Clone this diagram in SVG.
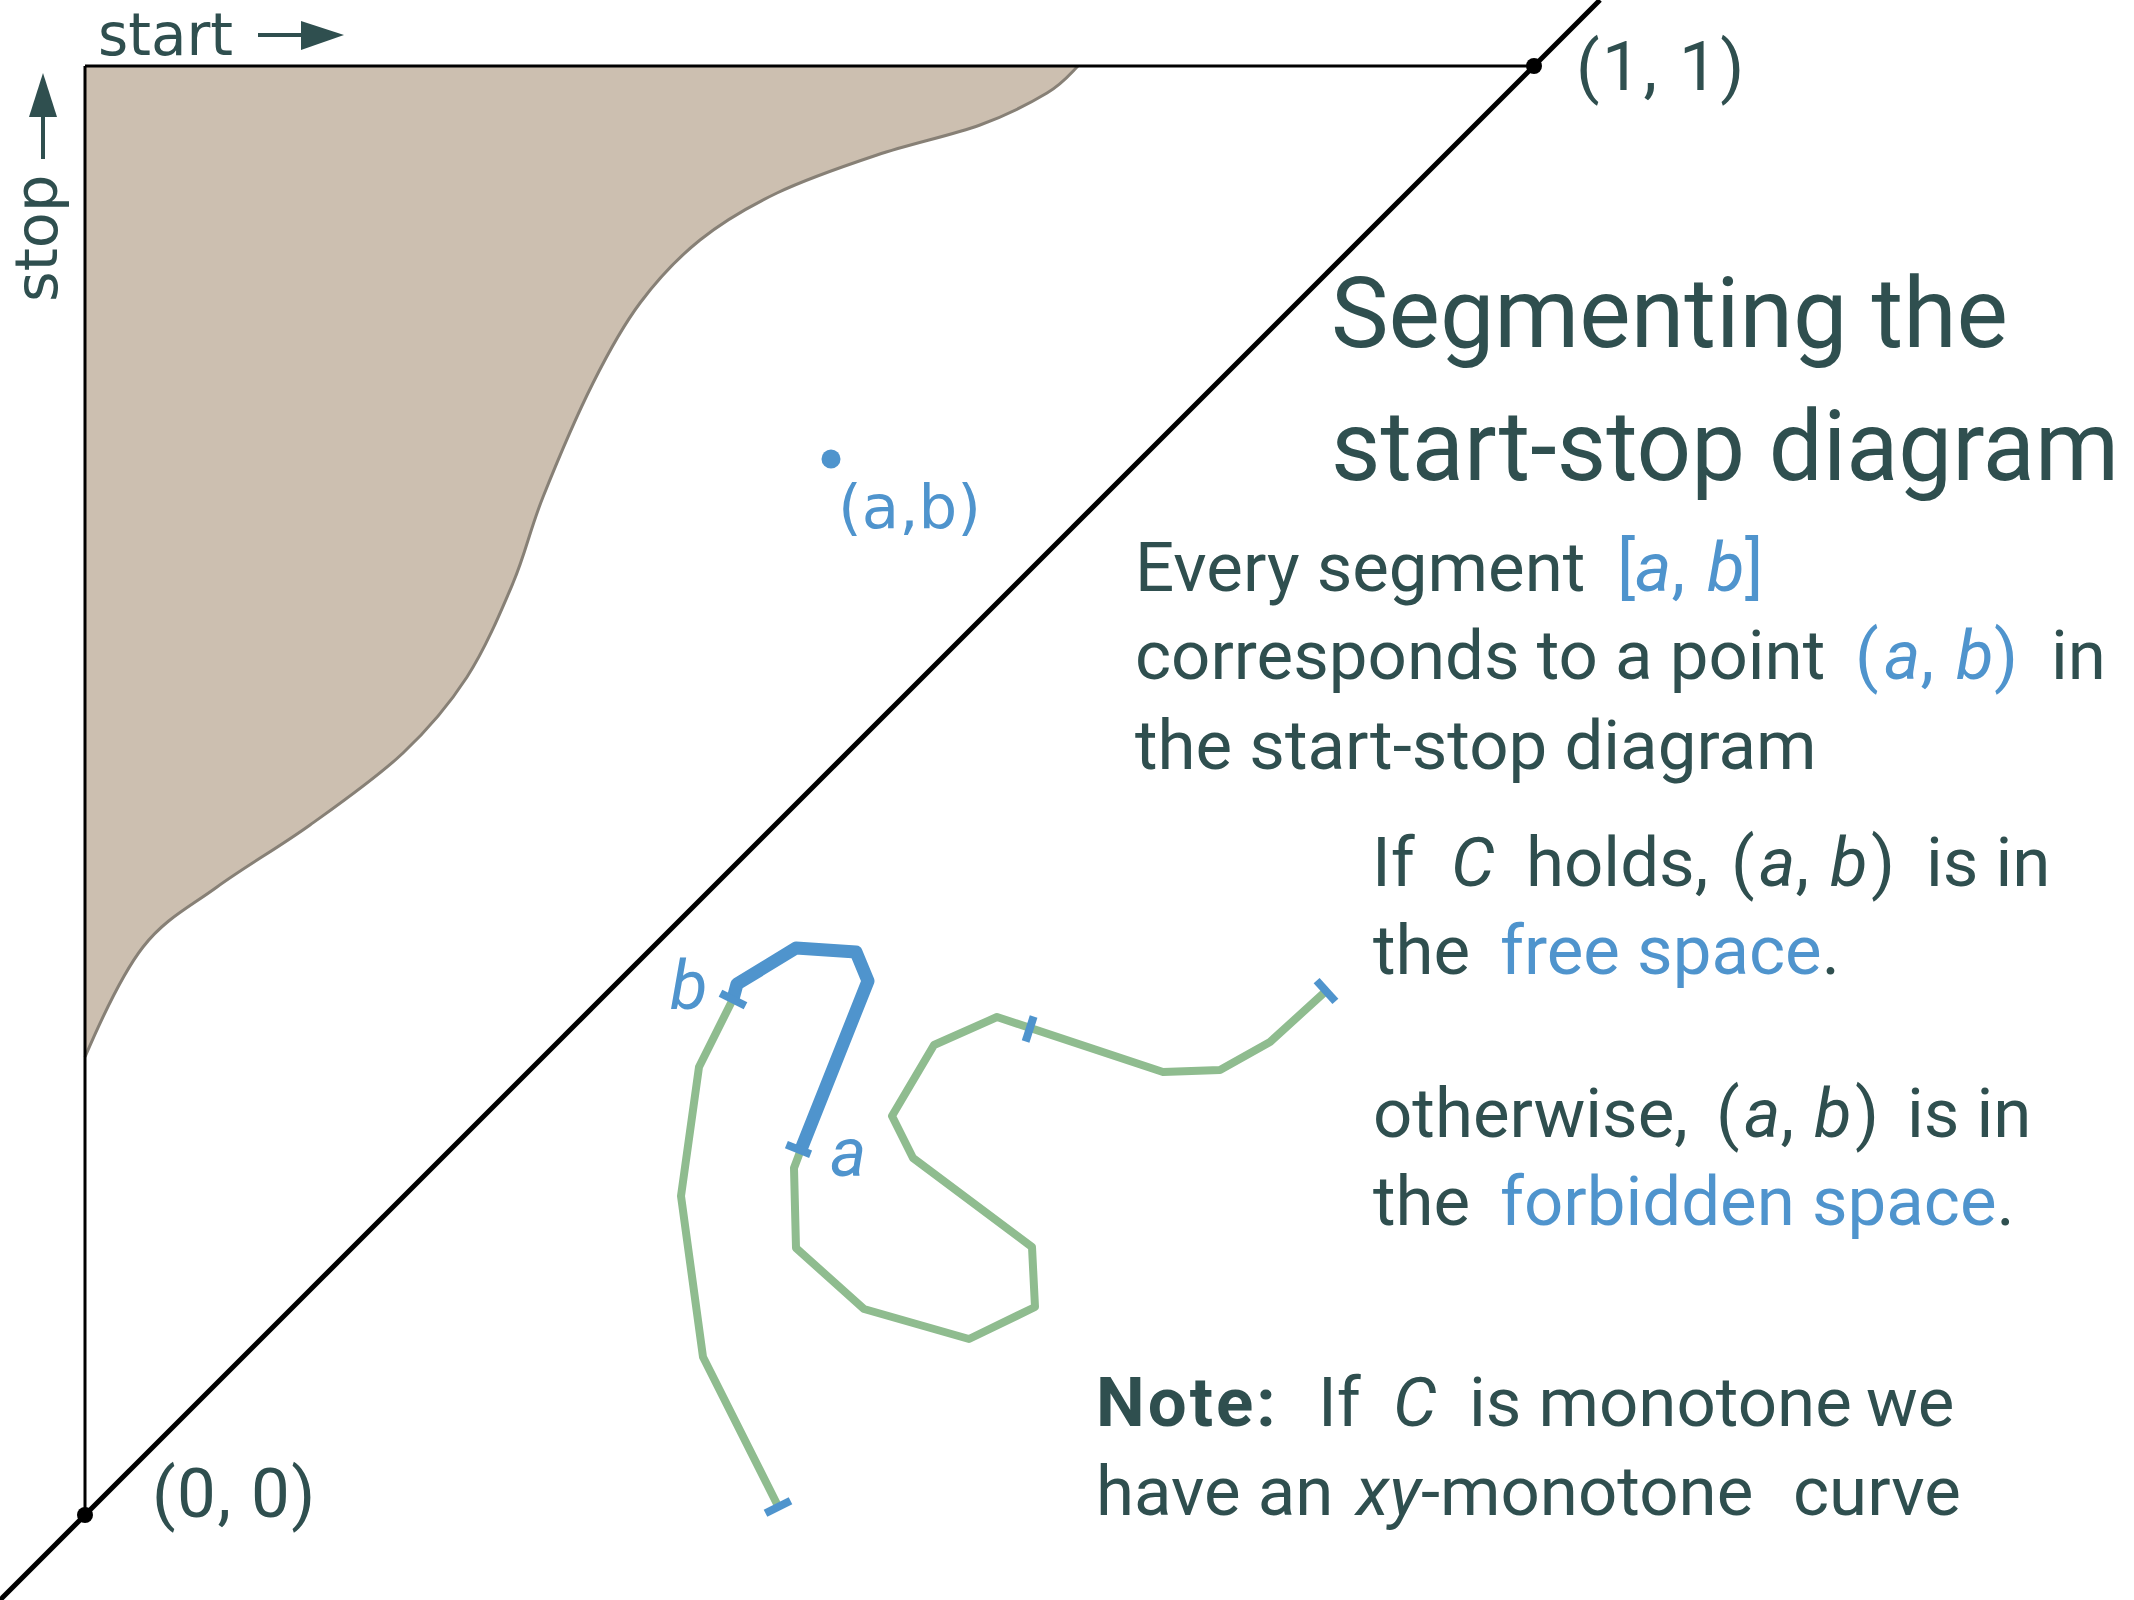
<svg xmlns="http://www.w3.org/2000/svg" width="2134" height="1600" viewBox="0 0 2134 1600">
<style>
  .t{font-family:Roboto,"Liberation Sans",sans-serif;fill:#2F4F4F}
  .body{font-size:69px}
  .title{font-size:98px}
  .bl{fill:#4F94CD}
  .i{font-style:italic}
  .bold{font-weight:700;letter-spacing:3px}
  .lbl{font-family:"DejaVu Sans","Open Sans",sans-serif;fill:#2F4F4F}
  .axis{stroke:#000;stroke-width:3;fill:none}
  .diag{stroke:#000;stroke-width:5;fill:none}
  .dot{fill:#000}
  .green{stroke:#8FBC8F;stroke-width:8;fill:none;stroke-linejoin:round;stroke-linecap:butt}
  .thick{stroke:#4F94CD;stroke-width:13;fill:none;stroke-linejoin:round;stroke-linecap:butt}
  .tick{stroke:#4F94CD;stroke-width:8;stroke-linecap:butt}
  .arrow{fill:#2F4F4F}
  .arrowline{stroke:#2F4F4F;stroke-width:4}
</style>
<rect width="2134" height="1600" fill="#fff"/>

<g id="forbidden-region">
  <path fill="#CCBFB0" stroke="none" d="M85,1057 C100,1022 121,975.3 143,947 C165,918.7 189.2,907.3 217,887 C244.8,866.7 279,847.3 310,825 C341,802.7 376.8,777.7 403,753 C429.2,728.3 448.7,705.3 467,677 C485.3,648.7 500.3,613 513,583 C525.7,553 529.7,530.3 543,497 C556.3,463.7 576.8,415.3 593,383 C609.2,350.7 622.2,326.8 640,303 C657.8,279.2 677.2,258.3 700,240 C722.8,221.7 747.5,207.2 777,193 C806.5,178.8 843.2,166.3 877,155 C910.8,143.7 951.7,135.3 980,125 C1008.3,114.7 1030.7,102.8 1047,93 C1063.3,83.2 1070,74 1078,66 L85,66 Z"/>
  <path fill="none" stroke="#878076" stroke-width="3" d="M85,1057 C100,1022 121,975.3 143,947 C165,918.7 189.2,907.3 217,887 C244.8,866.7 279,847.3 310,825 C341,802.7 376.8,777.7 403,753 C429.2,728.3 448.7,705.3 467,677 C485.3,648.7 500.3,613 513,583 C525.7,553 529.7,530.3 543,497 C556.3,463.7 576.8,415.3 593,383 C609.2,350.7 622.2,326.8 640,303 C657.8,279.2 677.2,258.3 700,240 C722.8,221.7 747.5,207.2 777,193 C806.5,178.8 843.2,166.3 877,155 C910.8,143.7 951.7,135.3 980,125 C1008.3,114.7 1030.7,102.8 1047,93 C1063.3,83.2 1070,74 1078,66"/>
</g>

<g id="axes">
  <line class="axis" x1="85" y1="66" x2="1534" y2="66"/>
  <line class="axis" x1="85" y1="66" x2="85" y2="1515"/>
  <line class="diag" x1="0" y1="1600" x2="1600" y2="0"/>
</g>

<g id="point-00">
  <circle class="dot" cx="85" cy="1515" r="8"/>
  <text class="t body" x="152" y="1517" letter-spacing="1.5">(0, 0)</text>
</g>
<g id="point-11">
  <circle class="dot" cx="1534" cy="66" r="8"/>
  <text class="t body" x="1576" y="90" letter-spacing="2.5">(1, 1)</text>
</g>

<g id="start-label">
  <text class="lbl" x="98" y="55" font-size="58">start</text>
  <line class="arrowline" x1="258" y1="35" x2="305" y2="35"/>
  <polygon class="arrow" points="301,21 344,35 301,50"/>
</g>
<g id="stop-label">
  <text class="lbl" font-size="59" transform="translate(57,302) rotate(-90)">stop</text>
  <line class="arrowline" x1="43" y1="159" x2="43" y2="112"/>
  <polygon class="arrow" points="29,117 43,73 57,117"/>
</g>

<g id="point-ab">
  <circle cx="831" cy="459" r="9.5" fill="#4F94CD"/>
  <text class="lbl" x="838" y="528" font-size="61" style="fill:#4F94CD">(a,b)</text>
</g>

<g id="curve">
  <polyline class="green" points="778,1506 703,1357 681,1196 699,1067 733,999 737,984 796,948 856,952 868,981 800,1152 794,1168 796,1248 864,1309 969,1339 1035,1307 1032,1247 913,1158 892,1116 934,1045 997,1017 1163,1072 1220,1070 1270,1042 1326,991"/>
  <polyline class="thick" points="733,999 737,984 796,948 856,952 868,981 800,1152"/>
  <line class="tick" x1="765.5" y1="1513.3" x2="790.5" y2="1500.7"/>
  <line class="tick" x1="720.5" y1="993.2" x2="745.5" y2="1005.8"/>
  <line class="tick" x1="786.4" y1="1144.6" x2="810.6" y2="1154.2"/>
  <line class="tick" x1="1033.6" y1="1016.6" x2="1025.6" y2="1041.4"/>
  <line class="tick" x1="1316.6" y1="980.6" x2="1335.4" y2="1001.4"/>
  <text class="t body i bl" x="670" y="1009">b</text>
  <text class="t body i bl" x="830" y="1176">a</text>
</g>

<g id="title">
  <text class="t title" x="1331" y="347" textLength="677" lengthAdjust="spacingAndGlyphs">Segmenting the</text>
  <text class="t title" x="1331" y="480" textLength="788" lengthAdjust="spacingAndGlyphs">start-stop diagram</text>
</g>

<g id="text-segment">
  <text class="t body" x="1135" y="591">Every segment <tspan class="bl" x="1617">[</tspan><tspan class="bl i" x="1635">a</tspan><tspan class="bl">,</tspan><tspan class="bl i" x="1707">b</tspan><tspan class="bl" x="1745">]</tspan></text>
  <text class="t body" x="1135" y="679">corresponds to a point <tspan class="bl" x="1855">(</tspan><tspan class="bl i" x="1884">a</tspan><tspan class="bl">,</tspan><tspan class="bl i" x="1956">b</tspan><tspan class="bl" x="1994">)</tspan><tspan x="2051">in</tspan></text>
  <text class="t body" x="1135" y="769">the start-stop diagram</text>
</g>

<g id="text-free">
  <text class="t body" x="1372" y="886">If <tspan class="i" x="1451">C</tspan><tspan x="1526">holds,</tspan><tspan x="1731">(</tspan><tspan class="i" x="1759">a</tspan>,<tspan class="i" x="1830">b</tspan><tspan x="1871">)</tspan><tspan x="1926">is in</tspan></text>
  <text class="t body" x="1373" y="974">the <tspan class="bl" x="1500">free space</tspan>.</text>
</g>

<g id="text-forbidden">
  <text class="t body" x="1373" y="1137">otherwise, <tspan x="1716">(</tspan><tspan class="i" x="1744">a</tspan>,<tspan class="i" x="1814">b</tspan><tspan x="1855">)</tspan><tspan x="1907">is in</tspan></text>
  <text class="t body" x="1373" y="1225">the <tspan class="bl" x="1500">forbidden space</tspan>.</text>
</g>

<g id="text-note">
  <text class="t body" x="1096" y="1426"><tspan class="bold">Note:</tspan><tspan x="1318">If</tspan><tspan class="i" x="1393">C</tspan><tspan x="1469">is monotone</tspan><tspan x="1866">we</tspan></text>
  <text class="t body" x="1096" y="1515">have an <tspan class="i" x="1356">xy</tspan>-monotone <tspan x="1793">curve</tspan></text>
</g>
</svg>
